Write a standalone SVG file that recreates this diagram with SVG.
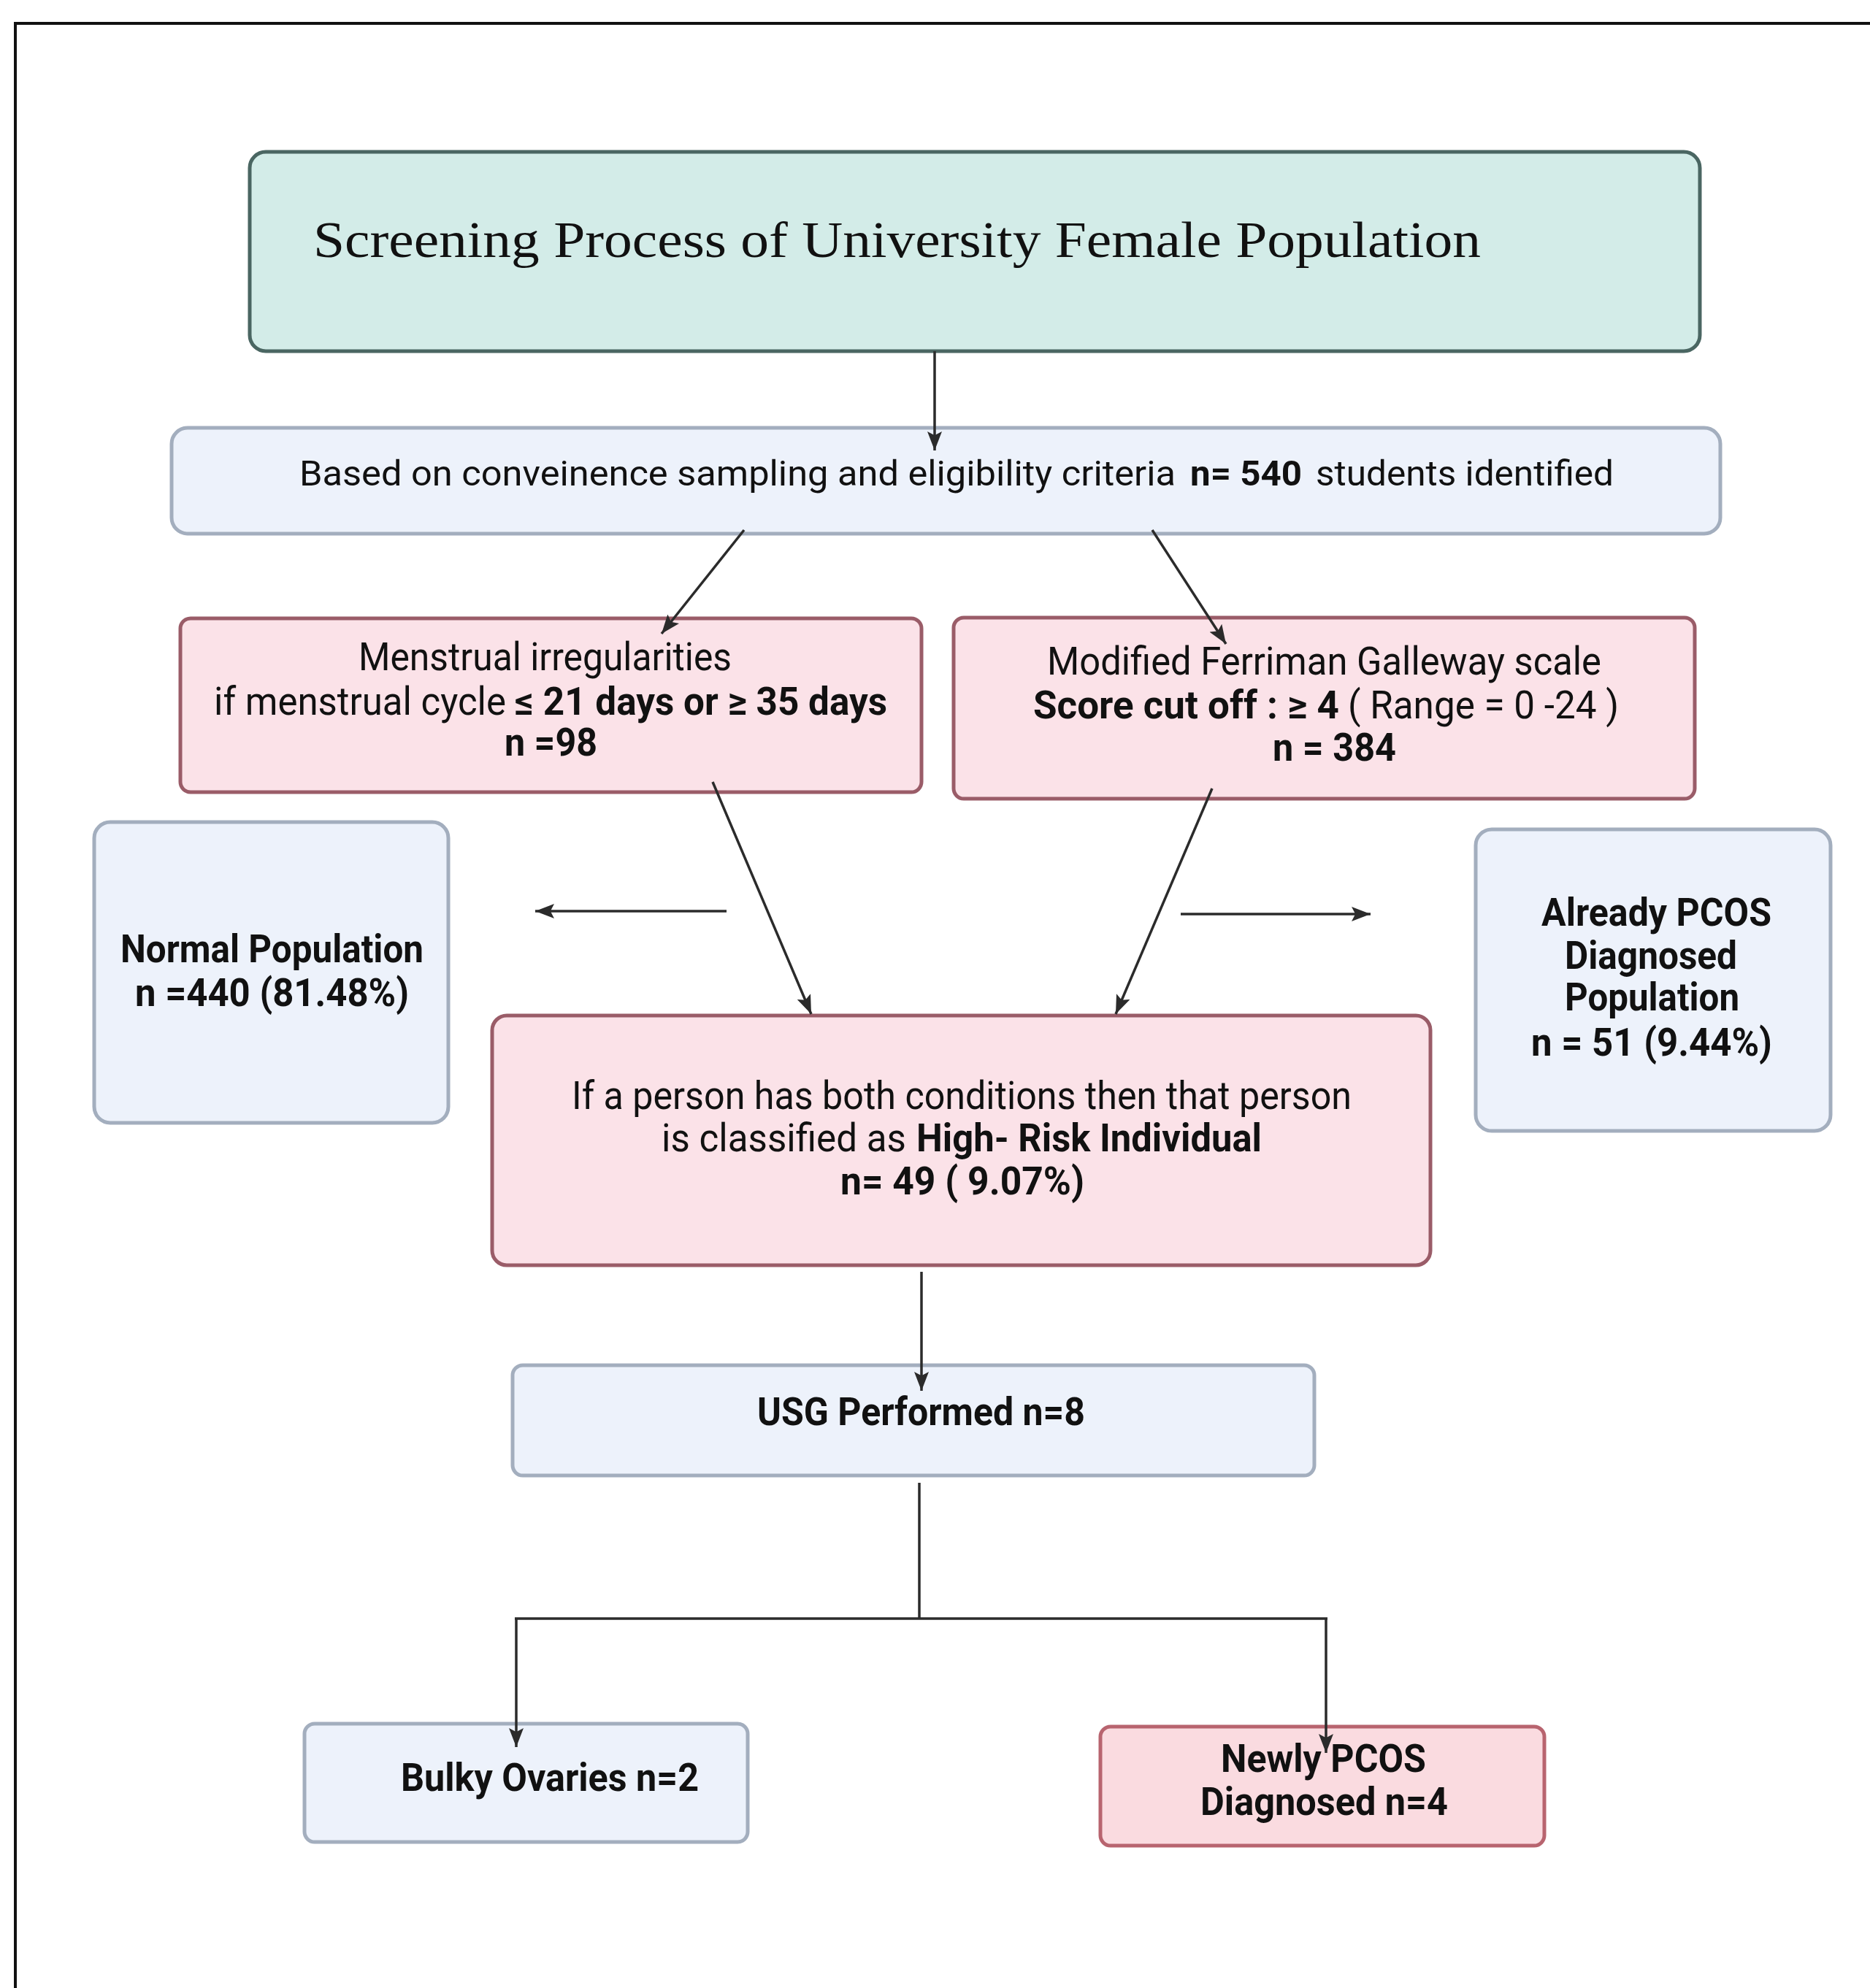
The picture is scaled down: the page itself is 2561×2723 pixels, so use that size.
<svg xmlns="http://www.w3.org/2000/svg" width="2561" height="2723" viewBox="0 0 2561 2723">
<style>
.teal{fill:#d3ece8;stroke:#4a6662;stroke-width:5}
.blue{fill:#edf2fb;stroke:#a3aebe;stroke-width:5}
.pink{fill:#fbe2e8;stroke:#9a5c68;stroke-width:5}
.pink2{fill:#fadbe0;stroke:#b8646f;stroke-width:5}
text{font-family:Roboto,"Liberation Sans",sans-serif;fill:#111}
.t{font-size:54px}
.s{font-size:49px}
.b{font-weight:bold}
.title{font-family:"Liberation Serif","DejaVu Serif",serif;font-size:70px}
.c{stroke:#2b2b2b;stroke-width:3.5;fill:none}
</style>
<defs>
<marker id="a" viewBox="0 0 10 10" refX="10" refY="5" markerWidth="26" markerHeight="20" markerUnits="userSpaceOnUse" orient="auto" preserveAspectRatio="none">
<path d="M0,0 L10,5 L0,10 L2,5 z" fill="#2b2b2b"/>
</marker>
</defs>
<rect width="2561" height="2723" fill="#ffffff"/>
<path d="M21,2723 V32 H2561" fill="none" stroke="#111" stroke-width="4"/>

<g id="title">
<rect class="teal" x="342" y="208" width="1986" height="273" rx="22"/>
<text class="title" x="429" y="352" textLength="1599" lengthAdjust="spacingAndGlyphs">Screening Process of University Female Population</text>
</g>

<g id="identified">
<rect class="blue" x="235" y="586" width="2121" height="145" rx="22"/>
<text class="s" x="410" y="665" textLength="1200" lengthAdjust="spacingAndGlyphs">Based on conveinence sampling and eligibility criteria</text>
<text class="s b" x="1630" y="665" textLength="153" lengthAdjust="spacingAndGlyphs">n= 540</text>
<text class="s" x="1802" y="665" textLength="408" lengthAdjust="spacingAndGlyphs">students identified</text>
</g>

<g id="menstrual">
<rect class="pink" x="247" y="847" width="1015" height="238" rx="14"/>
<text class="t" x="491" y="918" textLength="511" lengthAdjust="spacingAndGlyphs">Menstrual irregularities</text>
<text class="t" x="293" y="979" textLength="400" lengthAdjust="spacingAndGlyphs">if menstrual cycle</text>
<text class="t b" x="705" y="979" textLength="510" lengthAdjust="spacingAndGlyphs">≤ 21 days or ≥ 35 days</text>
<text class="t b" x="691" y="1035" textLength="127" lengthAdjust="spacingAndGlyphs">n =98</text>
</g>

<g id="ferriman">
<rect class="pink" x="1306" y="846" width="1015" height="248" rx="14"/>
<text class="t" x="1434" y="924" textLength="759" lengthAdjust="spacingAndGlyphs">Modified Ferriman Galleway scale</text>
<text class="t b" x="1415" y="984" textLength="419" lengthAdjust="spacingAndGlyphs">Score cut off :  ≥ 4</text>
<text class="t" x="1846" y="984" textLength="371" lengthAdjust="spacingAndGlyphs">( Range = 0 -24 )</text>
<text class="t b" x="1743" y="1042" textLength="169" lengthAdjust="spacingAndGlyphs">n = 384</text>
</g>

<g id="normal">
<rect class="blue" x="129" y="1126" width="485" height="412" rx="22"/>
<text class="t b" x="165" y="1318" textLength="415" lengthAdjust="spacingAndGlyphs">Normal Population</text>
<text class="t b" x="185" y="1378" textLength="375" lengthAdjust="spacingAndGlyphs">n =440 (81.48%)</text>
</g>

<g id="already">
<rect class="blue" x="2021" y="1136" width="486" height="413" rx="22"/>
<text class="t b" x="2111" y="1268" textLength="315" lengthAdjust="spacingAndGlyphs">Already PCOS</text>
<text class="t b" x="2143" y="1327" textLength="236" lengthAdjust="spacingAndGlyphs">Diagnosed</text>
<text class="t b" x="2143" y="1384" textLength="239" lengthAdjust="spacingAndGlyphs">Population</text>
<text class="t b" x="2097" y="1446" textLength="330" lengthAdjust="spacingAndGlyphs">n = 51 (9.44%)</text>
</g>

<g id="highrisk">
<rect class="pink" x="674" y="1391" width="1285" height="342" rx="20"/>
<text class="t" x="783" y="1519" textLength="1068" lengthAdjust="spacingAndGlyphs">If a person has both conditions then that person</text>
<text class="t" x="906" y="1577" textLength="335" lengthAdjust="spacingAndGlyphs">is classified as</text>
<text class="t b" x="1255" y="1577" textLength="473" lengthAdjust="spacingAndGlyphs">High- Risk Individual</text>
<text class="t b" x="1151" y="1636" textLength="334" lengthAdjust="spacingAndGlyphs">n= 49 ( 9.07%)</text>
</g>

<g id="usg">
<rect class="blue" x="702" y="1870" width="1098" height="151" rx="14"/>
<text class="t b" x="1037" y="1952" textLength="449" lengthAdjust="spacingAndGlyphs">USG Performed n=8</text>
</g>

<g id="bulky">
<rect class="blue" x="417" y="2361" width="607" height="162" rx="14"/>
<text class="t b" x="549" y="2453" textLength="408" lengthAdjust="spacingAndGlyphs">Bulky Ovaries n=2</text>
</g>

<g id="newly">
<rect class="pink2" x="1507" y="2365" width="608" height="163" rx="14"/>
<text class="t b" x="1672" y="2427" textLength="281" lengthAdjust="spacingAndGlyphs">Newly PCOS</text>
<text class="t b" x="1644" y="2486" textLength="339" lengthAdjust="spacingAndGlyphs">Diagnosed n=4</text>
</g>

<g id="connectors">
<line class="c" x1="1280" y1="481" x2="1280" y2="617" marker-end="url(#a)"/>
<line class="c" x1="1019" y1="726" x2="906" y2="868" marker-end="url(#a)"/>
<line class="c" x1="1578" y1="726" x2="1679" y2="882" marker-end="url(#a)"/>
<line class="c" x1="976" y1="1071" x2="1111" y2="1389" marker-end="url(#a)"/>
<line class="c" x1="1660" y1="1080" x2="1528" y2="1389" marker-end="url(#a)"/>
<line class="c" x1="995" y1="1248" x2="733" y2="1248" marker-end="url(#a)"/>
<line class="c" x1="1617" y1="1252" x2="1877" y2="1252" marker-end="url(#a)"/>
<line class="c" x1="1262" y1="1742" x2="1262" y2="1905" marker-end="url(#a)"/>
<path class="c" d="M1259,2031 V2217 M705,2217 H1818"/>
<line class="c" x1="707" y1="2217" x2="707" y2="2393" marker-end="url(#a)"/>
<line class="c" x1="1816" y1="2217" x2="1816" y2="2401" marker-end="url(#a)"/>
</g>
</svg>
